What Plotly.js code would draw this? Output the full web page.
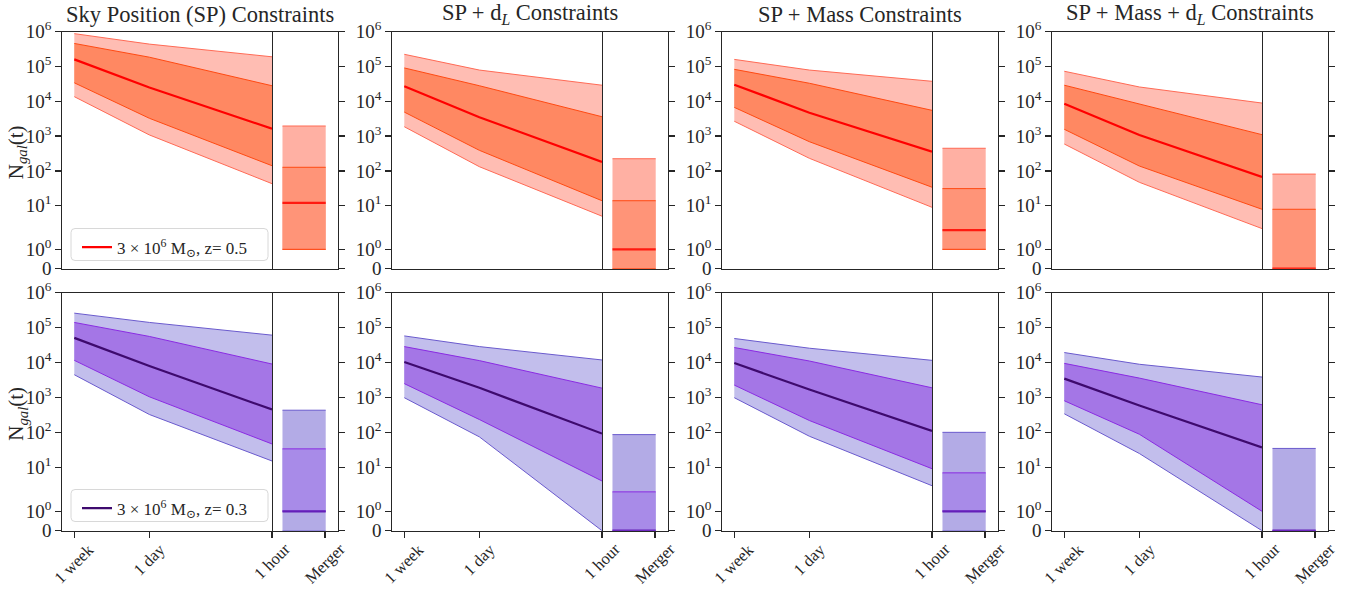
<!DOCTYPE html>
<html><head><meta charset="utf-8">
<script src="https://cdn.plot.ly/plotly-3.0.1.min.js"></script>
<style>html,body{margin:0;padding:0;background:#fff}#chart{width:1363px;height:589px}</style>
</head><body><div id="chart"></div><script>
// ---------- data ----------
const timeHours = [168, 24, 1];
const timeLabels = ['1 week', '1 day', '1 hour'];
const mergerLabel = 'Merger';
const panelTitles = ['Sky Position (SP) Constraints', 'SP + d<sub><i>L</i></sub> Constraints',
  'SP + Mass Constraints', 'SP + Mass + d<sub><i>L</i></sub> Constraints'];
const seriesLabels = ['3 × 10<sup>6</sup> M<sub>⊙</sub>, z= 0.5', '3 × 10<sup>6</sup> M<sub>⊙</sub>, z= 0.3'];
const yTickValues = [0, 1, 10, 100, 1e3, 1e4, 1e5, 1e6];
const yTickLabels = ['0', '10<sup>0</sup>', '10<sup>1</sup>', '10<sup>2</sup>', '10<sup>3</sup>',
  '10<sup>4</sup>', '10<sup>5</sup>', '10<sup>6</sup>'];
const yAxisLabel = 'N<sub><i>gal</i></sub>(t)';

// z = 0.5 (top row): values at 1 week, 1 day, 1 hour
const sp05_outerLow  = [1.36e4, 1080, 43];
const sp05_innerLow  = [3.4e4, 3250, 141];
const sp05_median    = [1.6e5, 2.5e4, 1630];
const sp05_innerHigh = [4.6e5, 1.85e5, 2.8e4];
const sp05_outerHigh = [8.8e5, 4.4e5, 1.9e5];
const sp05_merger    = [1, 1, 12, 127, 1950];   // outerLow, innerLow, median, innerHigh, outerHigh

const spd05_outerLow  = [1860, 132, 5];
const spd05_innerLow  = [4900, 390, 13.9];
const spd05_median    = [2.7e4, 3500, 180];
const spd05_innerHigh = [9.1e4, 2.8e4, 3600];
const spd05_outerHigh = [2.24e5, 7.9e4, 2.9e4];
const spd05_merger    = [0, 0, 1, 13.9, 224];

const spm05_outerLow  = [2670, 230, 9];
const spm05_innerLow  = [6700, 690, 34];
const spm05_median    = [3.0e4, 4700, 356];
const spm05_innerHigh = [8.3e4, 3.3e4, 5500];
const spm05_outerHigh = [1.6e5, 7.9e4, 3.76e4];
const spm05_merger    = [1, 1, 2, 31, 447];

const spmd05_outerLow  = [593, 47, 2.2];
const spmd05_innerLow  = [1570, 138, 7.9];
const spmd05_median    = [8500, 1076, 67];
const spmd05_innerHigh = [2.9e4, 8400, 1100];
const spmd05_outerHigh = [7.3e4, 2.58e4, 8900];
const spmd05_merger    = [0, 0, 0, 7.9, 81];

// z = 0.3 (bottom row)
const sp03_outerLow  = [4500, 327, 15.3];
const sp03_innerLow  = [1.16e4, 1050, 47];
const sp03_median    = [5.1e4, 8000, 455];
const sp03_innerHigh = [1.41e5, 5.6e4, 9100];
const sp03_outerHigh = [2.6e5, 1.41e5, 6.1e4];
const sp03_merger    = [0, 1, 1, 34, 434];

const spd03_outerLow  = [990, 75, 0];
const spd03_innerLow  = [2500, 235, 4.1];
const spd03_median    = [1.04e4, 1900, 93];
const spd03_innerHigh = [2.87e4, 1.14e4, 1860];
const spd03_outerHigh = [5.8e4, 2.87e4, 1.19e4];
const spd03_merger    = [0, 0, 0, 2.0, 87];

const spm03_outerLow  = [990, 78, 3.0];
const spm03_innerLow  = [2270, 220, 9.2];
const spm03_median    = [9700, 1700, 111];
const spm03_innerHigh = [2.7e4, 1.11e4, 1900];
const spm03_outerHigh = [4.9e4, 2.58e4, 1.16e4];
const spm03_merger    = [0, 1, 1, 7, 101];

const spmd03_outerLow  = [343, 25, 0];
const spmd03_innerLow  = [809, 89, 1];
const spmd03_median    = [3470, 593, 37.6];
const spmd03_innerHigh = [9500, 3600, 621];
const spmd03_outerHigh = [1.94e4, 8950, 3860];
const spmd03_merger    = [0, 0, 0, 0, 35];

// ---------- styling / layout ----------
const W = 1363, H = 589;
const FONT = 'Liberation Serif, DejaVu Serif, serif';
const LT = 2, LA = 1 / 0.9;              // symlog: linthresh 2, linscale 1
function sl(v) { return v <= LT ? v * LA / LT : LA + Math.log10(v / LT); }
const yMax = sl(1e6);

const palettes = [
  {outerFill:'#FFBDB3', innerFill:'#FF8862', outerLine:'#FF6A55', innerLine:'#FF4A12', median:'#FF0000',
   barOuter:'#FFB0A3', barInner:'#FF9478', barMedian:'#FF1A10'},
  {outerFill:'#C2BEEC', innerFill:'#A476E6', outerLine:'#6A5ACD', innerLine:'#8A2BE2', median:'#3E0A6E',
   barOuter:'#B3ABE6', barInner:'#A88BE8', barMedian:'#6420B8'}
];

const panels = [
  [sp05_outerLow, sp05_innerLow, sp05_median, sp05_innerHigh, sp05_outerHigh, sp05_merger],
  [spd05_outerLow, spd05_innerLow, spd05_median, spd05_innerHigh, spd05_outerHigh, spd05_merger],
  [spm05_outerLow, spm05_innerLow, spm05_median, spm05_innerHigh, spm05_outerHigh, spm05_merger],
  [spmd05_outerLow, spmd05_innerLow, spmd05_median, spmd05_innerHigh, spmd05_outerHigh, spmd05_merger],
  [sp03_outerLow, sp03_innerLow, sp03_median, sp03_innerHigh, sp03_outerHigh, sp03_merger],
  [spd03_outerLow, spd03_innerLow, spd03_median, spd03_innerHigh, spd03_outerHigh, spd03_merger],
  [spm03_outerLow, spm03_innerLow, spm03_median, spm03_innerHigh, spm03_outerHigh, spm03_merger],
  [spmd03_outerLow, spmd03_innerLow, spmd03_median, spmd03_innerHigh, spmd03_outerHigh, spmd03_merger]
];

const rowTop = [31.7, 292.7], rowBot = [268.7, 530.7];
const colL = 62.3, colD = 272.0, colR = 337.5, colStep = 330;
const px = x => x / W, py = y => 1 - y / H;
const xLogRange = [Math.log10(168) + 0.135, 0];
const barX0 = 0.16, barX1 = 0.82, mergerTick = 0.81;
const xLabelTop = 537;

const traces = [];
const layout = {
  width: W, height: H, margin: {l:0, r:0, t:0, b:0}, showlegend: true,
  paper_bgcolor: '#fff', plot_bgcolor: 'rgba(0,0,0,0)',
  font: {family: FONT, color: '#262626', size: 19},
  barmode: 'overlay', annotations: [], shapes: []
};

const axisLine = {showline: true, linecolor: '#262626', linewidth: 1, mirror: true,
  showgrid: false, zeroline: false, ticklen: 6, tickwidth: 1.3, tickcolor: '#262626'};

panels.forEach((p, i) => {
  const row = Math.floor(i / 4), col = i % 4;
  const pal = palettes[row];
  const [oLo, iLo, med, iHi, oHi, mg] = p;
  const nL = 2 * i + 1, nR = 2 * i + 2;
  const xa = nL === 1 ? 'x' : 'x' + nL, ya = nL === 1 ? 'y' : 'y' + nL;
  const xb = 'x' + nR, yb = 'y' + nR;
  const xL = colL + col * colStep, xD = colD + col * colStep, xR = colR + col * colStep;
  const yDom = [py(rowBot[row]), py(rowTop[row])];
  const bottomRow = row === 1;

  layout['xaxis' + (nL === 1 ? '' : nL)] = Object.assign({}, axisLine, {
    type: 'log', range: xLogRange, domain: [px(xL), px(xD)], anchor: ya,
    tickvals: timeHours, ticktext: timeLabels, ticks: bottomRow ? 'outside' : '',
    showticklabels: false
  });
  layout['yaxis' + (nL === 1 ? '' : nL)] = Object.assign({}, axisLine, {
    range: [0, yMax], domain: yDom, anchor: xa,
    tickvals: yTickValues.map(sl), ticktext: yTickLabels, ticks: 'outside', tickfont: {size: 19}
  });
  layout['xaxis' + nR] = Object.assign({}, axisLine, {
    range: [0, 1], domain: [px(xD), px(xR)], anchor: yb,
    tickvals: [mergerTick], ticktext: [mergerLabel], ticks: bottomRow ? 'outside' : '',
    showticklabels: false
  });
  layout['yaxis' + nR] = Object.assign({}, axisLine, {
    range: [0, yMax], domain: yDom, anchor: xb, side: 'right', mirror: false,
    tickvals: yTickValues.map(sl), ticks: 'outside', showticklabels: false
  });

  // rotated, centred x tick labels (bottom row)
  if (bottomRow) {
    timeHours.forEach((h, k) => layout.annotations.push({
      text: timeLabels[k], xref: xa, yref: 'paper', x: Math.log10(h), y: py(xLabelTop),
      xanchor: 'center', yanchor: 'top', textangle: -45, showarrow: false, font: {size: 16.5}
    }));
    layout.annotations.push({
      text: mergerLabel, xref: xb, yref: 'paper', x: mergerTick, y: py(xLabelTop),
      xanchor: 'center', yanchor: 'top', textangle: -45, showarrow: false, font: {size: 16.5}
    });
  }

  const xs = timeHours.concat(timeHours.slice().reverse());
  const band = (lo, hi, color) => ({
    type: 'scatter', mode: 'lines', x: xs, y: hi.map(sl).concat(lo.map(sl).reverse()),
    fill: 'toself', fillcolor: color, line: {width: 0}, xaxis: xa, yaxis: ya,
    showlegend: false, hoverinfo: 'skip'
  });
  const line = (vals, color, w, extra) => Object.assign({
    type: 'scatter', mode: 'lines', x: timeHours, y: vals.map(sl),
    line: {color: color, width: w}, xaxis: xa, yaxis: ya, showlegend: false, hoverinfo: 'skip'
  }, extra || {});

  traces.push(band(oLo, oHi, pal.outerFill));
  traces.push(band(iLo, iHi, pal.innerFill));
  traces.push(line(oLo, pal.outerLine, 1));
  traces.push(line(oHi, pal.outerLine, 1));
  traces.push(line(iLo, pal.innerLine, 1));
  traces.push(line(iHi, pal.innerLine, 1));
  const legendExtra = col === 0 ? {showlegend: true, name: seriesLabels[row], legend: row === 0 ? 'legend' : 'legend2'} : {};
  traces.push(line(med, pal.median, 2.2, legendExtra));

  // merger bars
  const [mOLo, mILo, mMed, mIHi, mOHi] = mg;
  const bar = (lo, hi, color) => ({
    type: 'bar', x: [(barX0 + barX1) / 2], width: [barX1 - barX0], base: [sl(lo)], y: [sl(hi) - sl(lo)],
    marker: {color: color, line: {width: 0}}, xaxis: xb, yaxis: yb, showlegend: false, hoverinfo: 'skip'
  });
  traces.push(bar(mOLo, mOHi, pal.barOuter));
  traces.push(bar(mILo, mIHi, pal.barInner));
  const hline = (v, color, w) => ({
    type: 'scatter', mode: 'lines', x: [barX0, barX1], y: [sl(v), sl(v)],
    line: {color: color, width: w}, xaxis: xb, yaxis: yb, showlegend: false, hoverinfo: 'skip'
  });
  traces.push(hline(mOHi, pal.outerLine, 1));
  traces.push(hline(mOLo, pal.outerLine, 1));
  traces.push(hline(mIHi, pal.innerLine, 1));
  traces.push(hline(mILo, pal.innerLine, 1));
  traces.push(hline(mMed, pal.barMedian, 2.2));

  if (row === 0) {
    layout.annotations.push({text: panelTitles[col], xref: 'paper', yref: 'paper',
      x: px((xL + xR) / 2), y: py(14), xanchor: 'center', yanchor: 'middle', showarrow: false,
      font: {size: 22.5}});
  }
  if (col === 0) {
    layout.annotations.push({text: yAxisLabel, xref: 'paper', yref: 'paper', textangle: -90,
      x: px(17), y: py((rowTop[row] + rowBot[row]) / 2 + 2), xanchor: 'center', yanchor: 'middle',
      showarrow: false, font: {size: 21}});
  }
});

// legends with rounded frames
function roundRect(x0, y0, x1, y1, r) {
  const P = (x, y) => px(x) + ',' + py(y);
  return 'M' + P(x0 + r, y0) + ' L' + P(x1 - r, y0) + ' Q' + P(x1, y0) + ' ' + P(x1, y0 + r) +
    ' L' + P(x1, y1 - r) + ' Q' + P(x1, y1) + ' ' + P(x1 - r, y1) +
    ' L' + P(x0 + r, y1) + ' Q' + P(x0, y1) + ' ' + P(x0, y1 - r) +
    ' L' + P(x0, y0 + r) + ' Q' + P(x0, y0) + ' ' + P(x0 + r, y0) + ' Z';
}
const legendBoxes = [[71, 228.5, 268, 260.5], [71, 489.5, 268, 521.5]];
legendBoxes.forEach((b, k) => {
  layout.shapes.push({type: 'path', xref: 'paper', yref: 'paper', path: roundRect(b[0], b[1], b[2], b[3], 4),
    fillcolor: 'rgba(255,255,255,0.85)', line: {color: '#D8D8D8', width: 1}, layer: 'above'});
  layout[k === 0 ? 'legend' : 'legend2'] = {
    x: px(b[0] + 6), y: py(b[1] + 1), xanchor: 'left', yanchor: 'top',
    bgcolor: 'rgba(0,0,0,0)', borderwidth: 0, font: {size: 17, family: FONT, color: '#262626'},
    itemwidth: 30
  };
});

Plotly.newPlot('chart', traces, layout, {displayModeBar: false, staticPlot: true});
</script></body></html>
